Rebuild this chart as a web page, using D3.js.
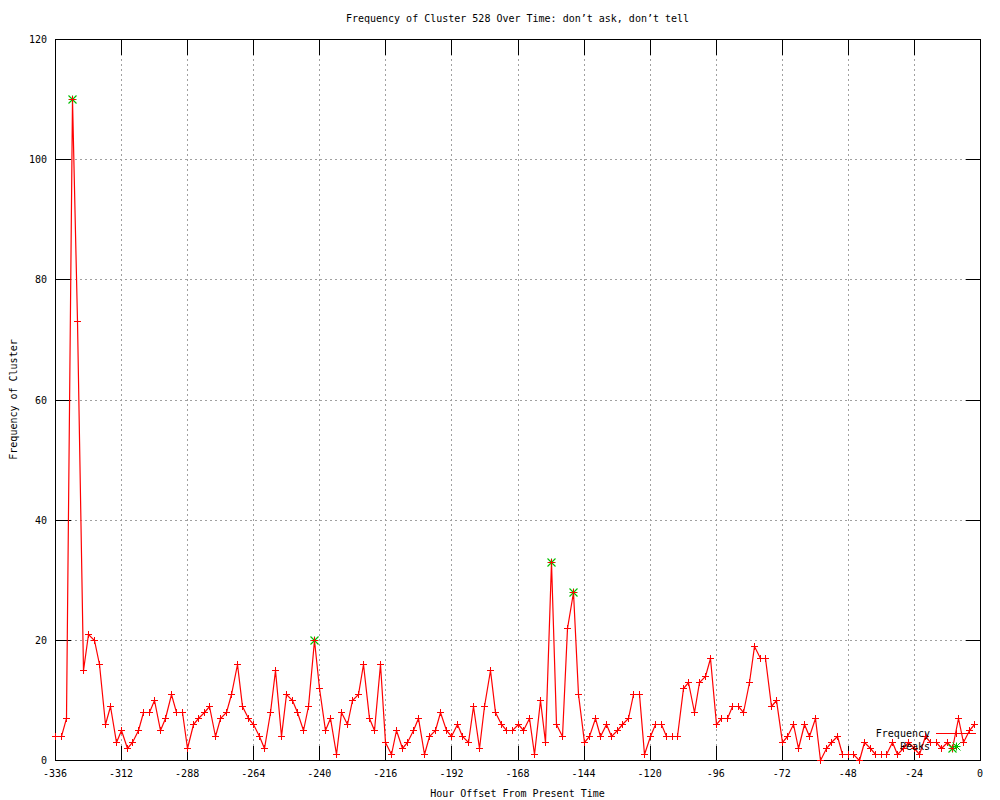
<!DOCTYPE html>
<html>
<head>
<meta charset="utf-8">
<script src="https://cdn.jsdelivr.net/npm/d3@7"></script>
<style>
  html, body { margin: 0; padding: 0; background: #fff; }
  svg { display: block; }
  text { font-family: "DejaVu Sans Mono", "Liberation Mono", monospace; font-size: 10px; fill: #000; }
</style>
</head>
<body>
<svg id="chart" width="1000" height="800"></svg>
<script>
// ---- data ----
const hours = [
  -336,-334,-332,-330,-328,-326,-324,-322,-320,-318,-316,-314,-312,-310,-308,-306,-304,-302,-300,-298,
  -296,-294,-292,-290,-288,-286,-284,-282,-280,-278,-276,-274,-272,-270,-268,-266,-264,-262,-260,-258,
  -256,-254,-252,-250,-248,-246,-244,-242,-240,-238,-236,-234,-232,-230,-228,-226,-224,-222,-220,-218,
  -216,-214,-212,-210,-208,-206,-204,-202,-200,-198,-196,-194,-192,-190,-188,-186,-184,-182,-180,-178,
  -176,-174,-172,-170,-168,-166,-164,-162,-160,-158,-156,-154,-152,-150,-148,-146,-144,-142,-140,-138,
  -136,-134,-132,-130,-128,-126,-124,-122,-120,-118,-116,-114,-112,-110,-108,-106,-104,-102,-100,-98,
  -96,-94,-92,-90,-88,-86,-84,-82,-80,-78,-76,-74,-72,-70,-68,-66,-64,-62,-60,-58,
  -56,-54,-52,-50,-48,-46,-44,-42,-40,-38,-36,-34,-32,-30,-28,-26,-24,-22,-20,-18,
  -16,-14,-12,-10,-8,-6,-4,-2
];
const frequency = [
  4,4,7,110,73,15,21,20,16,6,9,3,5,2,3,5,8,8,10,5,
  7,11,8,8,2,6,7,8,9,4,7,8,11,16,9,7,6,4,2,8,
  15,4,11,10,8,5,9,20,12,5,7,1,8,6,10,11,16,7,5,16,
  3,1,5,2,3,5,7,1,4,5,8,5,4,6,4,3,9,2,9,15,
  8,6,5,5,6,5,7,1,10,3,33,6,4,22,28,11,3,4,7,4,
  6,4,5,6,7,11,11,1,4,6,6,4,4,4,12,13,8,13,14,17,
  6,7,7,9,9,8,13,19,17,17,9,10,3,4,6,2,6,4,7,0,
  2,3,4,1,1,1,0,3,2,1,1,1,3,1,2,3,2,1,4,3,
  3,2,3,2,7,3,5,6
];
const peakHours = [-330, -242, -156, -148, -10];
const peakValues = [110, 20, 33, 28, 2];
const xTicks = [-336,-312,-288,-264,-240,-216,-192,-168,-144,-120,-96,-72,-48,-24,0];
const yTicks = [0,20,40,60,80,100,120];

const titleText = "Frequency of Cluster 528 Over Time: don\u2019t ask, don\u2019t tell";
const xLabel = "Hour Offset From Present Time";
const yLabel = "Frequency of Cluster";
const legendNames = ["Frequency", "Peaks"];

// ---- drawing ----
const RED = "#ff0000", GREEN = "#00c000", GRID = "#a0a0a0";
const svg = d3.select("#chart");
const L = 55, R = 980, T = 39, B = 760;
const x = d3.scaleLinear().domain([-336, 0]).range([L, R]);
const y = d3.scaleLinear().domain([0, 120]).range([B, T]);
const px = v => Math.round(v) + 0.5;
const TL = 15;

// grid
const grid = svg.append("g").attr("stroke", GRID).attr("stroke-dasharray", "2,3")
  .attr("shape-rendering", "crispEdges");
xTicks.filter(t => t !== -336 && t !== 0).forEach(t => {
  grid.append("line").attr("x1", px(x(t))).attr("x2", px(x(t))).attr("y1", T).attr("y2", B);
});
yTicks.filter(t => t !== 0 && t !== 120).forEach(t => {
  grid.append("line").attr("y1", px(y(t))).attr("y2", px(y(t))).attr("x1", L).attr("x2", R);
});

// ticks (all four sides, inward)
const ticks = svg.append("g").attr("stroke", "#000").attr("shape-rendering", "crispEdges");
xTicks.forEach(t => {
  const xx = px(x(t));
  ticks.append("line").attr("x1", xx).attr("x2", xx).attr("y1", px(B)).attr("y2", px(B) - TL);
  ticks.append("line").attr("x1", xx).attr("x2", xx).attr("y1", px(T)).attr("y2", px(T) + TL);
});
yTicks.forEach(t => {
  const yy = px(y(t));
  ticks.append("line").attr("y1", yy).attr("y2", yy).attr("x1", px(L)).attr("x2", px(L) + TL);
  ticks.append("line").attr("y1", yy).attr("y2", yy).attr("x1", px(R)).attr("x2", px(R) - TL);
});

// border
svg.append("rect").attr("x", px(L)).attr("y", px(T)).attr("width", Math.round(R) - Math.round(L))
  .attr("height", Math.round(B) - Math.round(T)).attr("fill", "none").attr("stroke", "#000")
  .attr("shape-rendering", "crispEdges");

// tick labels
xTicks.forEach(t => {
  svg.append("text").attr("x", x(t)).attr("y", 777).attr("text-anchor", "middle")
    .text(t === 0 ? "0" : String(t));
});
yTicks.forEach(t => {
  svg.append("text").attr("x", 47).attr("y", y(t) + 4).attr("text-anchor", "end").text(String(t));
});

// titles
svg.append("text").attr("x", (L + R) / 2).attr("y", 22).attr("text-anchor", "middle").text(titleText);
svg.append("text").attr("x", (L + R) / 2).attr("y", 797).attr("text-anchor", "middle").text(xLabel);
svg.append("text").attr("transform", `translate(17,${(T + B) / 2}) rotate(-90)`)
  .attr("text-anchor", "middle").text(yLabel);

// marker helpers
const plusPath = (cx, cy, s) => `M${cx - s},${cy}H${cx + s}M${cx},${cy - s}V${cy + s}`;
const starPath = (cx, cy, s) => `M${cx - s},${cy}H${cx + s}M${cx},${cy - s}V${cy + s}` +
  `M${cx - s},${cy - s}L${cx + s},${cy + s}M${cx - s},${cy + s}L${cx + s},${cy - s}`;

const freqData = hours.map((h, i) => ({ h, v: frequency[i] }));
const peakData = peakHours.map((h, i) => ({ h, v: peakValues[i] }));

// frequency line
const line = d3.line().x(d => px(x(d.h))).y(d => px(y(d.v)));
svg.append("path").datum(freqData).attr("d", line).attr("fill", "none")
  .attr("stroke", RED).attr("stroke-width", 1.2);

// peaks (green stars)
svg.append("g").selectAll("path").data(peakData).join("path")
  .attr("d", d => starPath(px(x(d.h)), px(y(d.v)), 4))
  .attr("stroke", GREEN).attr("fill", "none").attr("stroke-width", 1.1);

// frequency points
svg.append("g").selectAll("path").data(freqData).join("path")
  .attr("d", d => plusPath(px(x(d.h)), px(y(d.v)), 3.5))
  .attr("stroke", RED).attr("fill", "none").attr("shape-rendering", "crispEdges");

// legend
const ly1 = 733, ly2 = 746;
svg.append("text").attr("x", 930).attr("y", ly1 + 4).attr("text-anchor", "end").text(legendNames[0]);
svg.append("line").attr("x1", 936).attr("x2", 976).attr("y1", ly1 + 0.5).attr("y2", ly1 + 0.5)
  .attr("stroke", RED).attr("shape-rendering", "crispEdges");
svg.append("path").attr("d", plusPath(956.5, ly1 + 0.5, 3.5)).attr("stroke", RED)
  .attr("shape-rendering", "crispEdges");
svg.append("text").attr("x", 930).attr("y", ly2 + 4).attr("text-anchor", "end").text(legendNames[1]);
svg.append("path").attr("d", starPath(956.5, ly2 + 0.5, 4)).attr("stroke", GREEN).attr("fill", "none");
</script>
</body>
</html>
